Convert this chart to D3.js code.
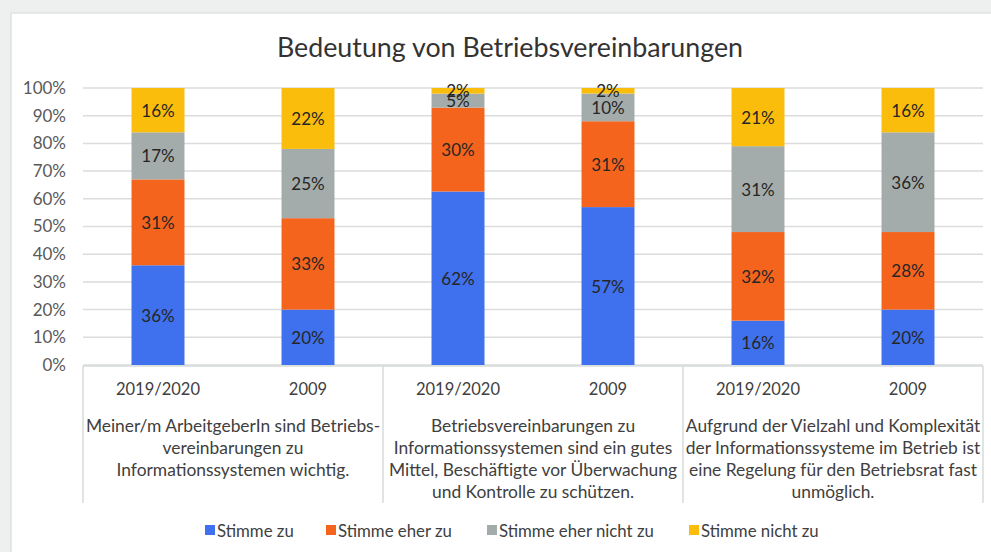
<!DOCTYPE html>
<html>
<head>
<meta charset="utf-8">
<script src="https://cdn.jsdelivr.net/npm/d3@7"></script>
<style>
  body { margin: 0; background: #eef0ef; }
  svg text { font-family: Lato, "Open Sans", sans-serif; }
</style>
</head>
<body>
<svg id="chart" width="991" height="552"></svg>
<script>
var width = 991;
var height = 552;

// data
var groups = ["g1", "g2", "g3"];
var years = ["2019/2020", "2009"];
var groupLabels = [
    ["Meiner/m ArbeitgeberIn sind Betriebs-", "vereinbarungen zu", "Informationssystemen wichtig."],
    ["Betriebsvereinbarungen zu", "Informationssystemen sind ein gutes", "Mittel, Beschäftigte vor Überwachung", "und Kontrolle zu schützen."],
    ["Aufgrund der Vielzahl und Komplexität", "der Informationssysteme im Betrieb ist", "eine Regelung für den Betriebsrat fast", "unmöglich."]
];
var seriesNames = ["Stimme zu", "Stimme eher zu", "Stimme eher nicht zu", "Stimme nicht zu"];
var stimmeZu = [36, 20, 62, 57, 16, 20];
var stimmeEherZu = [31, 33, 30, 31, 32, 28];
var stimmeEherNichtZu = [17, 25, 5, 10, 31, 36];
var stimmeNichtZu = [16, 22, 2, 2, 21, 16];
var yTicks = [0, 0.1, 0.2, 0.3, 0.4, 0.5, 0.6, 0.7, 0.8, 0.9, 1];
var colors = ["#3f70ee", "#f4641d", "#a3acaa", "#fbbd0b"];

var svg = d3.select("#chart");

// card
svg.append("rect").attr("x", 11).attr("y", 13).attr("width", width).attr("height", height)
    .attr("fill", "#fff").attr("stroke", "#dde2e0").attr("stroke-width", 1.5);

svg.append("text")
    .attr("x", 510).attr("y", 47)
    .attr("text-anchor", "middle").attr("dominant-baseline", "central")
    .attr("font-size", 26.8).attr("fill", "#333")
    .text("Bedeutung von Betriebsvereinbarungen");

var x0 = d3.scaleBand().domain(groups).range([83, 983]);
var x1 = d3.scaleBand().domain(years).range([0, x0.bandwidth()]).paddingInner(0.647).paddingOuter(0.3235);
var y = d3.scaleLinear().domain([0, 1]).range([365, 88]);

// gridlines
svg.append("g").selectAll("line").data(yTicks).enter().append("line")
    .attr("x1", 83).attr("x2", 983)
    .attr("y1", function (d) { return y(d); })
    .attr("y2", function (d) { return y(d); })
    .attr("stroke", "#dadddc").attr("stroke-width", 1.5);

var yAxis = d3.axisLeft(y).tickValues(yTicks).tickFormat(d3.format(".0%")).tickSize(0).tickPadding(17);
var yg = svg.append("g").attr("transform", "translate(83,0)").call(yAxis);
yg.select(".domain").remove();
yg.selectAll("text").attr("font-size", 17).attr("fill", "#595959")
    .style("font-family", "Lato, 'Open Sans', sans-serif");

// build rows
var rows = [];
groups.forEach(function (g, gi) {
    years.forEach(function (yr, yi) {
        var i = gi * 2 + yi;
        rows.push({ group: g, year: yr, vals: [stimmeZu[i], stimmeEherZu[i], stimmeEherNichtZu[i], stimmeNichtZu[i]] });
    });
});

rows.forEach(function (r) {
    var total = d3.sum(r.vals);
    var acc = 0;
    var bx = x0(r.group) + x1(r.year);
    r.vals.forEach(function (v, s) {
        var y0 = acc / total;
        acc += v;
        var y1 = acc / total;
        svg.append("rect")
            .attr("x", bx).attr("width", x1.bandwidth())
            .attr("y", y(y1)).attr("height", y(y0) - y(y1))
            .attr("fill", colors[s]);
    });
});

// value labels
rows.forEach(function (r) {
    var total = d3.sum(r.vals);
    var acc = 0;
    var cx = x0(r.group) + x1(r.year) + x1.bandwidth() / 2;
    r.vals.forEach(function (v, s) {
        var mid = (acc + v / 2) / total;
        acc += v;
        svg.append("text")
            .attr("x", cx).attr("y", y(mid))
            .attr("text-anchor", "middle").attr("dominant-baseline", "central")
            .attr("font-size", 17).attr("fill", "#262626")
            .text(v + "%");
    });
});

// category axis boxes
var ax = svg.append("g").attr("stroke", "#d6dbd9").attr("stroke-width", 1.5);
ax.append("line").attr("x1", 83).attr("x2", 983).attr("y1", 366).attr("y2", 366);
groups.forEach(function (g) {
    ax.append("line").attr("x1", x0(g)).attr("x2", x0(g)).attr("y1", 366).attr("y2", 503);
});
ax.append("line").attr("x1", 983).attr("x2", 983).attr("y1", 366).attr("y2", 503);

groups.forEach(function (g, gi) {
    years.forEach(function (yr) {
        svg.append("text")
            .attr("x", x0(g) + x1(yr) + x1.bandwidth() / 2).attr("y", 389)
            .attr("text-anchor", "middle").attr("dominant-baseline", "central")
            .attr("font-size", 16.5).attr("fill", "#404040")
            .text(yr);
    });
    groupLabels[gi].forEach(function (line, li) {
        svg.append("text")
            .attr("x", x0(g) + x0.bandwidth() / 2).attr("y", 425 + li * 22.3)
            .attr("text-anchor", "middle").attr("dominant-baseline", "central")
            .attr("font-size", 17.4).attr("fill", "#404040")
            .text(line);
    });
});

// legend
var legendX = [205, 326, 487, 689];
var legend = svg.append("g");
seriesNames.forEach(function (name, i) {
    legend.append("rect").attr("x", legendX[i]).attr("y", 525).attr("width", 10).attr("height", 10)
        .attr("fill", colors[i]);
    legend.append("text").attr("x", legendX[i] + 12).attr("y", 530)
        .attr("dominant-baseline", "central").attr("font-size", 16.8).attr("fill", "#404040")
        .text(name);
});
</script>
</body>
</html>
